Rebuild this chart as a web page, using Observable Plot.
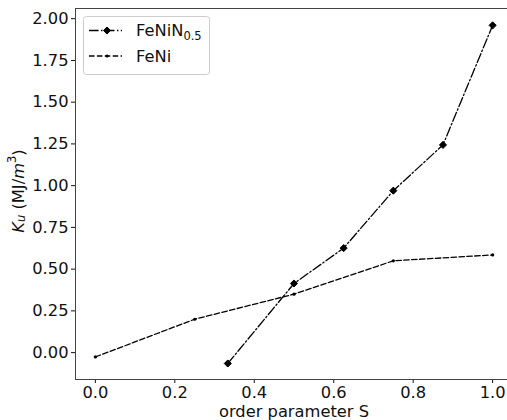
<!DOCTYPE html>
<html><head><meta charset="utf-8">
<script src="https://cdn.jsdelivr.net/npm/d3@7"></script>
<script src="https://cdn.jsdelivr.net/npm/@observablehq/plot@0.6"></script>
<style>
body{margin:0;background:#fff}
#chart svg{font-family:"DejaVu Sans",sans-serif;display:block}
</style>
</head><body><div id="chart"></div>
<script>
const sFeNiN = [1/3, 0.5, 0.625, 0.75, 0.875, 1.0];
const kFeNiN = [-0.065, 0.414, 0.626, 0.97, 1.244, 1.96];
const sFeNi = [0, 0.25, 0.5, 0.75, 1.0];
const kFeNi = [-0.026, 0.20, 0.35, 0.55, 0.585];
const xTicks = [0, 0.2, 0.4, 0.6, 0.8, 1.0];
const yTicks = [0, 0.25, 0.5, 0.75, 1.0, 1.25, 1.5, 1.75, 2.0];
const seriesNames = ["FeNiN", "FeNi"];

const feNiN = sFeNiN.map((s, i) => ({s, k: kFeNiN[i]}));
const feNi = sFeNi.map((s, i) => ({s, k: kFeNi[i]}));

const DASH = "5.5,2.4";
const DASHDOT = "9.6,2.4,1.5,2.4";

const plot = Plot.plot({
  width: 507, height: 420,
  marginLeft: 75, marginRight: -5, marginTop: 8, marginBottom: 41,
  style: {fontFamily: "DejaVu Sans", fontSize: "16.3px", color: "#111", background: "#fff"},
  x: {domain: [-0.05, 1.05]},
  y: {domain: [-0.161, 2.061]},
  marks: [
    Plot.axisX({ticks: xTicks, tickFormat: d3.format(".1f"), tickSize: 4, tickPadding: 3, label: null, fontSize: 16.3}),
    Plot.axisY({ticks: yTicks, tickFormat: d3.format(".2f"), tickSize: 4, tickPadding: 3, label: null, fontSize: 16.3}),
    Plot.frame({stroke: "#444"}),
    Plot.line(feNi, {x: "s", y: "k", stroke: "#000", strokeWidth: 1.3, strokeDasharray: DASH}),
    Plot.dot(feNi, {x: "s", y: "k", r: 1.6, fill: "#000"}),
    Plot.line(feNiN, {x: "s", y: "k", stroke: "#000", strokeWidth: 1.3, strokeDasharray: DASHDOT}),
    Plot.dot(feNiN, {x: "s", y: "k", symbol: "diamond2", r: 3.2, fill: "#000", stroke: "#000", strokeWidth: 1})
  ]
});
document.getElementById("chart").appendChild(plot);

const svg = d3.select(plot);
// y label
const yl = svg.append("text")
  .attr("transform", "translate(18,191) rotate(-90)")
  .attr("text-anchor", "middle").attr("dominant-baseline", "central")
  .attr("font-size", 16.3).attr("fill", "#111");
yl.append("tspan").attr("font-style", "italic").text("K");
yl.append("tspan").attr("font-style", "italic").attr("font-size", 11.5).attr("dy", 3).text("u");
yl.append("tspan").attr("dy", -3).text(" (MJ/");
yl.append("tspan").attr("font-style", "italic").text("m");
yl.append("tspan").attr("font-size", 11.5).attr("dy", -6).text("3");
yl.append("tspan").attr("dy", 6).text(")");
// x label
svg.append("text").attr("x", 294).attr("y", 417).attr("text-anchor", "middle")
  .attr("font-size", 16.3).attr("fill", "#111").text("order parameter S");

// legend
const lg = svg.append("g").attr("text-anchor", "start");
lg.append("rect").attr("x", 83.5).attr("y", 16.5).attr("width", 126).attr("height", 58)
  .attr("rx", 3).attr("fill", "#fff").attr("fill-opacity", 0.8).attr("stroke", "#ccc");
const rows = [{y: 30.5, dash: DASHDOT, marker: "diamond"}, {y: 56, dash: DASH, marker: "dot"}];
rows.forEach((r, i) => {
  lg.append("line").attr("x1", 89).attr("x2", 122).attr("y1", r.y).attr("y2", r.y)
    .attr("stroke", "#000").attr("stroke-width", 1.3).attr("stroke-dasharray", r.dash);
  if (r.marker === "diamond") {
    lg.append("path").attr("d", d3.symbol(d3.symbolDiamond2, 32)()).attr("transform", `translate(107,${r.y})`)
      .attr("fill", "#000").attr("stroke", "#000");
  } else {
    lg.append("circle").attr("cx", 107).attr("cy", r.y).attr("r", 1.6).attr("fill", "#000");
  }
  const t = lg.append("text").attr("x", 136).attr("y", r.y).attr("dy", "0.36em")
    .attr("text-anchor", "start").attr("font-size", 16.3).attr("fill", "#111");
  t.append("tspan").text(seriesNames[i]);
  if (i === 0) t.append("tspan").attr("font-size", 11.5).attr("dy", 4).text("0.5");
});
</script>
</body></html>
